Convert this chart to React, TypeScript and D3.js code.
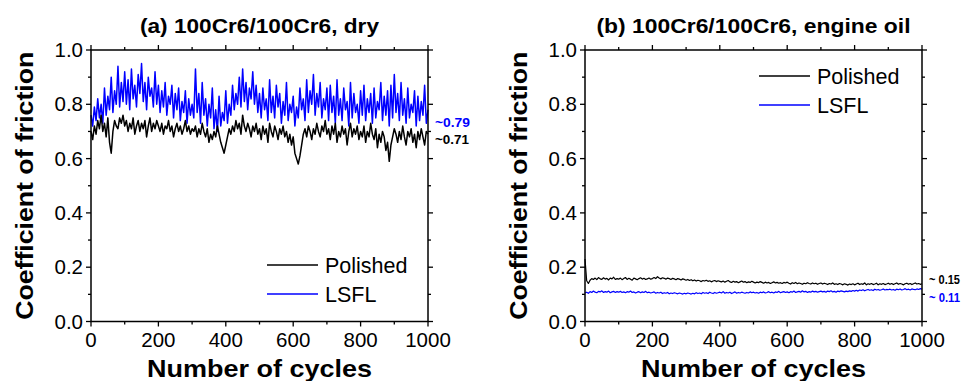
import React from "react";
import * as d3 from "d3";

const CYCLE_STEP = 5;
const xTicks = [0, 200, 400, 600, 800, 1000];
const yTicks = [0.0, 0.2, 0.4, 0.6, 0.8, 1.0];
const seriesNames = ["Polished", "LSFL"];

const dryLSFL = [
  0.76,0.72,0.79,0.74,0.82,0.75,0.80,0.73,0.86,0.76,0.83,0.78,0.90,0.77,0.85,0.80,0.94,0.79,0.88,0.81,0.92,
  0.80,0.89,0.78,0.93,0.82,0.87,0.79,0.91,0.84,0.95,0.81,0.88,0.78,0.90,0.83,0.86,0.79,0.92,0.80,0.87,
  0.77,0.85,0.79,0.88,0.76,0.83,0.80,0.87,0.75,0.84,0.78,0.86,0.74,0.81,0.77,0.85,0.73,0.82,0.76,0.80,
  0.75,0.93,0.77,0.84,0.73,0.88,0.76,0.82,0.72,0.80,0.75,0.86,0.71,0.78,0.70,0.83,0.72,0.77,0.74,0.85,
  0.73,0.80,0.76,0.87,0.78,0.84,0.80,0.90,0.79,0.93,0.81,0.88,0.78,0.86,0.82,0.92,0.80,0.87,0.77,0.84,
  0.75,0.86,0.78,0.82,0.74,0.89,0.77,0.83,0.75,0.87,0.79,0.84,0.73,0.81,0.76,0.88,0.74,0.80,0.77,0.83,
  0.72,0.79,0.75,0.86,0.78,0.82,0.74,0.89,0.77,0.85,0.80,0.91,0.76,0.84,0.79,0.88,0.75,0.82,0.78,0.86,
  0.74,0.87,0.77,0.83,0.73,0.89,0.76,0.82,0.74,0.86,0.78,0.81,0.72,0.88,0.75,0.84,0.77,0.80,0.73,0.85,
  0.76,0.87,0.74,0.82,0.77,0.84,0.73,0.86,0.75,0.81,0.78,0.88,0.74,0.83,0.76,0.85,0.72,0.87,0.75,0.91,
  0.77,0.84,0.74,0.88,0.76,0.82,0.73,0.86,0.75,0.80,0.77,0.85,0.72,0.83,0.74,0.81,0.76,0.87,0.73,0.78,
];

const dryPolished = [
  0.70,0.67,0.72,0.69,0.74,0.71,0.76,0.70,0.73,0.68,0.75,0.66,0.62,0.70,0.74,0.72,0.71,0.75,0.73,0.76,0.72,
  0.74,0.70,0.73,0.71,0.75,0.69,0.72,0.74,0.70,0.73,0.71,0.74,0.68,0.72,0.75,0.70,0.73,0.71,0.74,0.72,
  0.70,0.73,0.69,0.72,0.71,0.74,0.70,0.72,0.68,0.71,0.73,0.70,0.72,0.69,0.71,0.74,0.70,0.72,0.69,0.71,
  0.70,0.72,0.68,0.71,0.69,0.73,0.70,0.68,0.71,0.66,0.69,0.67,0.70,0.68,0.72,0.69,0.66,0.64,0.62,0.65,
  0.68,0.71,0.69,0.72,0.70,0.74,0.71,0.73,0.69,0.76,0.72,0.70,0.73,0.71,0.68,0.72,0.70,0.73,0.69,0.71,
  0.67,0.72,0.69,0.71,0.66,0.73,0.70,0.68,0.72,0.70,0.67,0.71,0.69,0.72,0.68,0.70,0.66,0.69,0.65,0.68,
  0.62,0.60,0.58,0.61,0.65,0.69,0.71,0.68,0.72,0.70,0.67,0.71,0.69,0.73,0.70,0.68,0.72,0.70,0.74,0.69,
  0.71,0.67,0.72,0.69,0.73,0.66,0.70,0.68,0.72,0.69,0.71,0.65,0.70,0.73,0.68,0.71,0.69,0.72,0.67,0.70,
  0.68,0.72,0.66,0.70,0.68,0.73,0.69,0.67,0.71,0.64,0.69,0.66,0.70,0.68,0.63,0.66,0.59,0.65,0.68,0.71,
  0.69,0.66,0.70,0.67,0.72,0.68,0.65,0.70,0.68,0.71,0.66,0.69,0.64,0.70,0.67,0.71,0.68,0.65,0.70,0.69,
];

const oilPolished = [
  0.23,0.15,0.14,0.152,0.158,0.155,0.16,0.154,0.162,0.157,0.155,0.161,0.156,0.159,0.153,0.16,0.157,0.163,0.155,0.158,0.156,
  0.16,0.154,0.158,0.162,0.155,0.159,0.156,0.152,0.16,0.157,0.154,0.158,0.161,0.156,0.159,0.155,0.157,0.16,0.156,0.158,
  0.162,0.158,0.165,0.16,0.157,0.161,0.159,0.156,0.16,0.158,0.155,0.159,0.157,0.154,0.158,0.156,0.153,0.157,0.155,0.152,
  0.155,0.151,0.154,0.15,0.153,0.149,0.152,0.15,0.147,0.151,0.149,0.152,0.148,0.15,0.146,0.149,0.151,0.147,0.15,0.148,
  0.146,0.149,0.145,0.148,0.151,0.146,0.144,0.148,0.145,0.147,0.143,0.146,0.149,0.145,0.147,0.143,0.146,0.144,0.148,0.145,
  0.142,0.145,0.143,0.147,0.144,0.141,0.145,0.142,0.144,0.14,0.143,0.146,0.142,0.144,0.141,0.143,0.14,0.144,0.142,0.145,
  0.141,0.138,0.143,0.14,0.144,0.139,0.142,0.14,0.137,0.141,0.139,0.143,0.14,0.138,0.142,0.139,0.141,0.137,0.14,0.142,
  0.138,0.141,0.139,0.136,0.14,0.138,0.142,0.137,0.139,0.136,0.14,0.138,0.135,0.139,0.137,0.134,0.138,0.136,0.139,0.135,
  0.138,0.141,0.136,0.139,0.137,0.142,0.135,0.139,0.137,0.14,0.136,0.138,0.141,0.135,0.139,0.137,0.14,0.136,0.138,0.141,
  0.137,0.14,0.136,0.139,0.142,0.137,0.14,0.138,0.135,0.139,0.141,0.137,0.14,0.136,0.139,0.142,0.138,0.14,0.137,0.139,
];

const oilLSFL = [
  0.105,0.108,0.104,0.11,0.107,0.112,0.108,0.106,0.111,0.109,0.113,0.107,0.11,0.108,0.112,0.106,0.109,0.111,0.107,0.11,0.108,
  0.111,0.107,0.109,0.106,0.11,0.108,0.112,0.107,0.109,0.105,0.108,0.11,0.106,0.109,0.107,0.111,0.106,0.108,0.105,0.107,
  0.109,0.104,0.107,0.105,0.108,0.103,0.106,0.104,0.107,0.102,0.105,0.103,0.106,0.104,0.102,0.105,0.103,0.101,0.104,0.102,
  0.105,0.103,0.101,0.104,0.102,0.106,0.103,0.105,0.102,0.107,0.104,0.106,0.103,0.108,0.105,0.103,0.107,0.104,0.106,0.108,
  0.105,0.11,0.104,0.107,0.105,0.108,0.103,0.106,0.109,0.104,0.107,0.105,0.108,0.106,0.104,0.107,0.105,0.109,0.106,0.108,
  0.105,0.107,0.104,0.108,0.106,0.109,0.105,0.107,0.11,0.106,0.108,0.105,0.109,0.107,0.111,0.106,0.108,0.11,0.107,0.109,
  0.106,0.11,0.108,0.112,0.107,0.109,0.111,0.108,0.113,0.109,0.111,0.107,0.11,0.108,0.112,0.109,0.111,0.108,0.11,0.112,
  0.109,0.111,0.108,0.112,0.11,0.113,0.109,0.111,0.108,0.112,0.11,0.113,0.111,0.109,0.112,0.11,0.113,0.111,0.114,0.112,
  0.115,0.112,0.116,0.114,0.117,0.113,0.116,0.118,0.115,0.117,0.114,0.119,0.116,0.118,0.115,0.117,0.12,0.116,0.118,0.117,
  0.119,0.116,0.118,0.115,0.119,0.117,0.12,0.116,0.118,0.121,0.117,0.119,0.116,0.12,0.118,0.117,0.12,0.118,0.121,0.119,
];

const BLUE = "#0000ff";
const FONT = "Liberation Sans, Arial, sans-serif";

type Annot = { text: string; color: string; y: number; w: number };
type PanelProps = {
  left: number;
  right: number;
  title: string;
  titleWidth: number;
  polished: number[];
  lsfl: number[];
  lineWidth: number;
  legendX: number;
  legendY: number;
  annot: Annot[];
  yTitleX: number;
};

function Panel(p: PanelProps) {
  const top = 50;
  const bottom = 321.5;
  const x = d3.scaleLinear().domain([0, 1000]).range([p.left, p.right]);
  const y = d3.scaleLinear().domain([0, 1]).range([bottom, top]);
  const line = d3
    .line<number>()
    .x((_, i) => x(i * CYCLE_STEP))
    .y((d) => y(d));
  const minorX = d3.range(100, 1000, 200);
  const minorY = d3.range(0.1, 1, 0.2);
  const cx = (p.left + p.right) / 2;
  return (
    <g>
      <text x={cx} y={33} textAnchor="middle" fontFamily={FONT} fontWeight="bold" fontSize={20}
        textLength={p.titleWidth} lengthAdjust="spacingAndGlyphs">{p.title}</text>
      <path d={line(p.lsfl) || ""} fill="none" stroke={BLUE} strokeWidth={p.lineWidth} strokeLinejoin="round" />
      <path d={line(p.polished) || ""} fill="none" stroke="#000" strokeWidth={p.lineWidth} strokeLinejoin="round" />
      <rect x={p.left} y={top} width={p.right - p.left} height={bottom - top} fill="none" stroke="#000" strokeWidth={1.5} />
      {xTicks.map((t) => (
        <g key={"xt" + t}>
          <line x1={x(t)} x2={x(t)} y1={bottom} y2={bottom + 5} stroke="#000" strokeWidth={1.3} />
          <line x1={x(t)} x2={x(t)} y1={top} y2={top - 5} stroke="#000" strokeWidth={1.3} />
          <text x={x(t)} y={347} textAnchor="middle" fontFamily={FONT} fontSize={20.5}>{t}</text>
        </g>
      ))}
      {minorX.map((t) => (
        <g key={"xm" + t}>
          <line x1={x(t)} x2={x(t)} y1={bottom} y2={bottom + 3} stroke="#000" strokeWidth={1.3} />
          <line x1={x(t)} x2={x(t)} y1={top} y2={top - 3} stroke="#000" strokeWidth={1.3} />
        </g>
      ))}
      {yTicks.map((t) => (
        <g key={"yt" + t}>
          <line x1={p.left} x2={p.left - 5} y1={y(t)} y2={y(t)} stroke="#000" strokeWidth={1.3} />
          <line x1={p.right} x2={p.right + 5} y1={y(t)} y2={y(t)} stroke="#000" strokeWidth={1.3} />
          <text x={p.left - 8} y={y(t) + 7} textAnchor="end" fontFamily={FONT} fontSize={20.5}>{t.toFixed(1)}</text>
        </g>
      ))}
      {minorY.map((t) => (
        <g key={"ym" + t}>
          <line x1={p.left} x2={p.left - 3} y1={y(t)} y2={y(t)} stroke="#000" strokeWidth={1.3} />
          <line x1={p.right} x2={p.right + 3} y1={y(t)} y2={y(t)} stroke="#000" strokeWidth={1.3} />
        </g>
      ))}
      <text x={cx} y={377} textAnchor="middle" fontFamily={FONT} fontWeight="bold" fontSize={24}
        textLength={225} lengthAdjust="spacingAndGlyphs">Number of cycles</text>
      <text transform={`translate(${p.yTitleX},${(top + bottom) / 2}) rotate(-90)`} textAnchor="middle"
        fontFamily={FONT} fontWeight="bold" fontSize={24} textLength={268} lengthAdjust="spacingAndGlyphs">
        Coefficient of friction
      </text>
      {seriesNames.map((n, i) => (
        <g key={n}>
          <line x1={p.legendX} x2={p.legendX + 51} y1={p.legendY + i * 29} y2={p.legendY + i * 29}
            stroke={i === 0 ? "#000" : BLUE} strokeWidth={1.3} />
          <text x={p.legendX + 58} y={p.legendY + i * 29 + 7.5} fontFamily={FONT} fontSize={21.5}>{n}</text>
        </g>
      ))}
      {p.annot.map((a) => (
        <text key={a.text} x={p.right + 7} y={a.y} fill={a.color} fontFamily={FONT} fontWeight="bold" fontSize={13}
          textLength={a.w} lengthAdjust="spacingAndGlyphs">
          {a.text}
        </text>
      ))}
    </g>
  );
}

export default function App() {
  return (
    <svg width={967} height={381} style={{ display: "block", position: "absolute", left: 0, top: 0 }}>
      <rect width={967} height={381} fill="#fff" />
      <Panel left={91} right={428} title="(a) 100Cr6/100Cr6, dry" titleWidth={239} lineWidth={1.5}
        polished={dryPolished} lsfl={dryLSFL} legendX={267} legendY={265} yTitleX={33}
        annot={[{ text: "~0.79", color: BLUE, y: 127, w: 35 }, { text: "~0.71", color: "#000", y: 144, w: 34 }]} />
      <Panel left={585} right={922} title="(b) 100Cr6/100Cr6, engine oil" titleWidth={314} lineWidth={1.2}
        polished={oilPolished} lsfl={oilLSFL} legendX={759} legendY={76} yTitleX={527}
        annot={[{ text: "~ 0.15", color: "#000", y: 284, w: 31 }, { text: "~ 0.11", color: BLUE, y: 301.5, w: 31 }]} />
    </svg>
  );
}
